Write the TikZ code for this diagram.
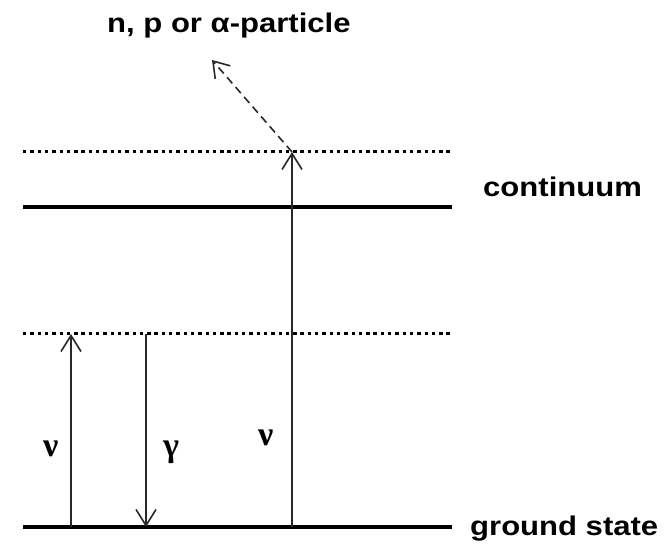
\documentclass[tikz,border=0pt]{standalone}
\usepackage{fontspec}
\setmainfont{Liberation Sans}
\newfontfamily\labelfont[FakeStretch=1.15]{Liberation Sans}
\newfontfamily\greekfont{Liberation Serif}
\usetikzlibrary{arrows.meta, positioning}
\definecolor{levelline}{RGB}{0, 0, 0}
\definecolor{arrowline}{RGB}{40, 40, 40}

\begin{document}
\begin{tikzpicture}[
    x=1pt, y=1pt,
    level/.style={
        draw=levelline, line width=3.2pt
    },
    virtual/.style={
        draw=levelline, line width=3pt,
        dash pattern=on 3.4pt off 3.9pt
    },
    trans/.style={
        -{Straight Barb[length=16pt, width=20pt]},
        line width=1.6pt, draw=arrowline
    },
    emission/.style={
        -{Straight Barb[length=15pt, width=20pt]},
        line width=1.6pt, draw=arrowline,
        dash pattern=on 8pt off 5pt
    },
    lbl/.style={
        anchor=base west, inner sep=0pt,
        font=\labelfont\bfseries\fontsize{27}{30}\selectfont
    },
    glbl/.style={
        anchor=base west, inner sep=0pt,
        font=\greekfont\bfseries\fontsize{34}{36}\selectfont
    }
]
\useasboundingbox (0,0) rectangle (666,543);

% 1. Niveaux
\coordinate (top-l) at (23, 391);    \coordinate (top-r) at (452, 391);
\coordinate (cont-l) at (23, 336);   \coordinate (cont-r) at (452, 336);
\coordinate (mid-l) at (23, 209);    \coordinate (mid-r) at (452, 209);
\coordinate (gnd-l) at (23, 16);     \coordinate (gnd-r) at (452, 16);

\draw[virtual] (top-l) -- (top-r);
\draw[level] (cont-l) -- (cont-r);
\draw[virtual] (mid-l) -- (mid-r);
\draw[level] (gnd-l) -- (gnd-r);

% 2. Points de depart et d'arrivee des transitions
\coordinate (nu1-a) at (71, 16);     \coordinate (nu1-b) at (71, 209);
\coordinate (gam-a) at (146, 209);   \coordinate (gam-b) at (146, 16);
\coordinate (nu2-a) at (292, 16);    \coordinate (nu2-b) at (292, 391);
\coordinate (out) at (212, 483);

% 3. Transitions
\draw[trans] (nu1-a) -- (nu1-b);
\draw[trans] (gam-a) -- (gam-b);
\draw[trans] (nu2-a) -- (nu2-b);
\draw[emission] (nu2-b) -- (out);

% 4. Textes
\node[lbl] (particle) at (107, 510) {n, p or α-particle};
\node[lbl] (continuum) at (483, 346) {continuum};
\node[lbl] (ground) at (470, 7) {ground state};

\node[glbl] (nu1) at (43, 86) {ν};
\node[glbl] (gamma) at (163, 86) {γ};
\node[glbl] (nu2) at (258, 97) {ν};

\end{tikzpicture}
\end{document}
